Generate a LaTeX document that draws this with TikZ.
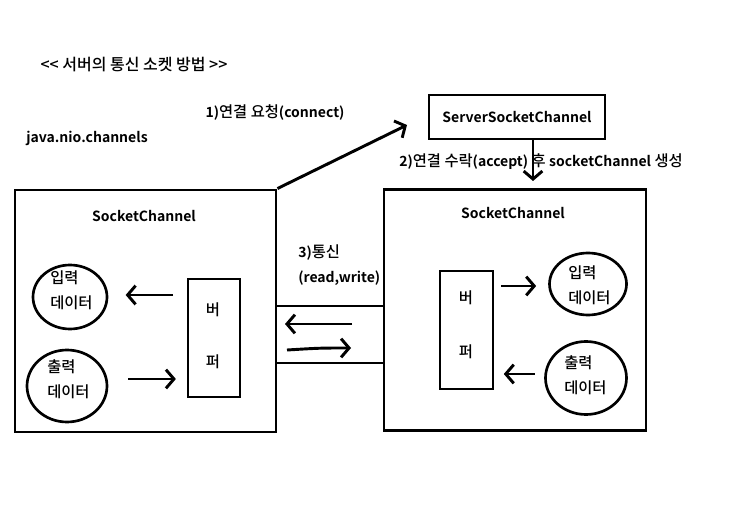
\documentclass[tikz,border=0pt]{standalone}
\usepackage{fontspec}
\setmainfont{Noto Sans CJK KR}[UprightFont=* Medium, BoldFont=* Bold]
\newcommand\lat[1]{{\fontsize{10.5pt}{18.75pt}\selectfont\bfseries #1}}
\usetikzlibrary{arrows.meta,shapes.geometric}
\begin{document}
\begin{tikzpicture}[x=0.75pt,y=-0.75pt,
  every node/.style={font=\fontsize{11.5pt}{18.75pt}\selectfont, inner sep=0pt},
  bigbox/.style={draw, line width=2.2pt, rectangle},
  blob/.style={draw, ellipse, line width=2pt},
  lbl/.style={align=left, anchor=west},
  conn/.style={line width=2.2pt},
  arr/.style={line width=2.2pt, -{Straight Barb[length=6pt,width=14pt,line width=2.2pt]}}
]
\useasboundingbox (0,0) rectangle (734,509);
\fill[white] (0,0) rectangle (734,509);

% title and labels
\node (title) at (134,65) {\fontsize{12pt}{14pt}\selectfont <{}< 서버의 통신 소켓 방법 >{}>};
\node (pkg) at (87,138) {\lat{java.nio.channels}};
\node (req) at (275,113) {\lat{1)}연결 요청\lat{(connect)}};
\node (acc) at (541,162) {\lat{2)}연결 수락\lat{(accept)} 후 \lat{socketChannel} 생성};
\node[lbl] (comm) at (298,265) {\lat{3)}통신\\\lat{(read,write)}};

% boxes
\node[bigbox, minimum width={261*0.75pt}, minimum height={242*0.75pt}] (lbox) at (145.5,311) {};
\node[bigbox, minimum width={262*0.75pt}, minimum height={241*0.75pt}] (rbox) at (515,310) {};
\node[bigbox, minimum width={176*0.75pt}, minimum height={44*0.75pt}] (srv) at (517,117) {\lat{ServerSocketChannel}};

\node (lname) at (144,216) {\lat{SocketChannel}};
\node (rname) at (513,213) {\lat{SocketChannel}};

% buffers
\node[bigbox, minimum width={52*0.75pt}, minimum height={118*0.75pt}] (lbuf) at (214,338) {};
\node (lb1) at (213,310) {버};
\node (lb2) at (213,362) {퍼};
\node[bigbox, minimum width={53*0.75pt}, minimum height={118*0.75pt}] (rbuf) at (466.5,330) {};
\node (rb1) at (466,298) {버};
\node (rb2) at (466,352) {퍼};

% data ellipses
\node[blob, minimum width={74*0.75pt}, minimum height={64*0.75pt}] (lin) at (70,297) {};
\node[lbl] (lint) at (50,290.5) {입력\\데이터};
\node[blob, minimum width={80*0.75pt}, minimum height={72*0.75pt}] (lout) at (67,386) {};
\node[lbl] (loutt) at (47,379.5) {출력\\데이터};
\node[blob, minimum width={77*0.75pt}, minimum height={62*0.75pt}] (rin) at (588,284) {};
\node[lbl] (rint) at (568,285.5) {입력\\데이터};
\node[blob, minimum width={81*0.75pt}, minimum height={73*0.75pt}] (rout) at (586,378) {};
\node[lbl] (routt) at (564,375) {출력\\데이터};

% connection request
\coordinate (reqend) at (407,125);
\draw[arr] (lbox.north east) -- (reqend);

% accept
\coordinate (accs) at (533,139);
\coordinate (acce) at (533,181);
\draw[arr] (accs) -- (acce);

% channel pipe
\draw[conn] (lbox.east |- 0,306) -- (rbox.west |- 0,306);
\draw[conn] (lbox.east |- 0,363) -- (rbox.west |- 0,363);
\coordinate (p1a) at (352,324);
\coordinate (p1b) at (285,324);
\draw[arr] (p1a) -- (p1b);
\coordinate (p2a) at (287,350);
\coordinate (p2b) at (351,348);
\draw[arr] (p2a) .. controls (320,348) .. (p2b);

% internal data flow
\draw[arr, shorten <=10pt, shorten >=13pt] (lbuf.west |- 0,295) -- (lin.east |- 0,295);
\draw[arr, shorten <=15pt, shorten >=8pt] (lout.east |- 0,379) -- (lbuf.west |- 0,379);
\draw[arr, shorten <=5pt, shorten >=9pt] (rbuf.east |- 0,286) -- (rin.west |- 0,286);
\draw[arr, shorten <=7pt, shorten >=7pt] (rout.west |- 0,374) -- (rbuf.east |- 0,374);
\end{tikzpicture}
\end{document}
